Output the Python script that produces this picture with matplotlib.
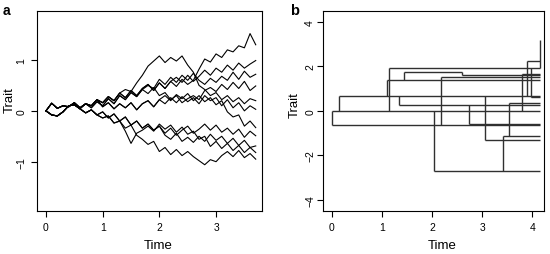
import numpy as np
import matplotlib.pyplot as plt

plt.rcParams['font.family'] = ['Liberation Sans', 'DejaVu Sans']

# ---- panel a: trait paths read every 0.1 time units ----
bm_time = np.linspace(0, 3.7, 38)

tip_01 = [0, .15, .05, .1, .08, .16, .06, .14, .1, .22, .16, .28, .2, .35, .26, .4, .3, .44, .52, .4,
          .55, .44, .58, .48, .62, .52, .6, .82, 1.02, .96, 1.12, 1.05, 1.2, 1.16, 1.28, 1.24, 1.52, 1.3]
tip_02 = [0, .15, .05, .1, .08, .16, .06, .14, .1, .22, .16, .28, .2, .35, .42, .38, .55, .7, .88, .98,
          1.08, .95, 1.05, .98, 1.08, .9, .76, .5, .42, .3, .36, .22, .3, .18, .26, .14, .24, .2]
tip_03 = [0, .15, .05, .1, .08, .16, .06, .14, .1, .22, .16, .28, .2, .35, .26, .4, .3, .44, .52, .4,
          .55, .44, .58, .66, .56, .7, .58, .68, .8, .7, .84, .76, .9, .8, .94, .84, .92, .99]
tip_04 = [0, -.08, -.1, -.02, .1, .12, .04, .14, .06, .18, .1, .24, .14, .3, .22, .36, .28, .42, .5, .44,
          .62, .52, .66, .56, .7, .6, .74, .6, .52, .64, .56, .68, .6, .76, .62, .78, .66, .72]
tip_05 = [0, -.08, -.1, -.02, .1, .12, .04, .14, .06, .18, .1, .24, .14, .3, .22, .36, .28, .42, .34, .46,
          .3, .36, .22, .3, .16, .24, .3, .22, .4, .46, .38, .52, .42, .56, .44, .58, .4, .49]
tip_06 = [0, .15, .05, .1, .08, .16, .06, .14, .1, .22, .08, .16, .04, .14, .06, .16, .02, .14, .2, .08,
          .22, .14, .26, .16, .28, .18, .26, .14, .3, .2, .26, .1, .22, .06, .16, 0, .1, .03]
tip_07 = [0, .15, .05, .1, .08, .16, .06, .14, .1, .22, .08, .16, .04, .14, .06, .16, .02, .14, .2, .08,
          .22, .3, .2, .32, .24, .34, .2, .3, .18, .26, .12, .2, -.02, -.12, -.08, -.3, -.2, -.33]
tip_08 = [0, -.08, -.1, -.02, .1, .12, .04, -.04, .02, -.08, -.02, -.14, -.06, -.2, -.12, -.28, -.2, -.34, -.26, -.38,
          -.3, -.44, -.34, -.48, -.38, -.3, -.44, -.36, -.26, -.38, -.28, -.42, -.34, -.46, -.36, -.52, -.4, -.49]
tip_09 = [0, -.08, -.1, -.02, .1, .12, .04, -.04, .02, -.08, -.02, -.14, -.06, -.2, -.12, -.28, -.2, -.34, -.26, -.38,
          -.3, -.48, -.56, -.44, -.6, -.52, -.62, -.5, -.6, -.46, -.58, -.5, -.64, -.54, -.68, -.58, -.72, -.69]
tip_10 = [0, -.08, -.1, -.02, .1, .12, .04, -.04, .02, -.08, -.14, -.1, -.24, -.2, -.4, -.64, -.44, -.38, -.3, -.4,
          -.26, -.36, -.28, -.42, -.32, -.46, -.4, -.56, -.5, -.7, -.6, -.74, -.64, -.78, -.68, -.82, -.72, -.82]
tip_11 = [0, -.08, -.1, -.02, .1, .12, .04, -.04, .02, -.08, -.14, -.1, -.24, -.2, -.34, -.28, -.48, -.56, -.66, -.6,
          -.8, -.72, -.86, -.76, -.88, -.8, -.9, -.98, -1.06, -.96, -1.0, -.88, -.8, -.9, -.78, -.92, -.84, -.95]
bm_paths = [tip_01, tip_02, tip_03, tip_04, tip_05, tip_06, tip_07, tip_08, tip_09, tip_10, tip_11]

# ---- panel b: jump process, horizontal stretches and vertical jumps ----
seg_start = [0, 0, 0.15, 1.14, 1.10, 1.44, 2.60, 1.35, 2.74, 2.05, 3.42, 3.54, 2.19, 3.06, 3.80, 3.89, 3.97]
seg_end   = [4.15, 4.15, 4.15, 4.15, 4.15, 2.60, 4.15, 4.15, 4.15, 4.15, 4.15, 4.15, 4.15, 4.15, 4.15, 4.15, 4.15]
seg_value = [0, -0.64, 0.67, 1.90, 1.39, 1.72, 1.60, 0.26, -0.60, -2.69, -1.12, 0.33, 1.50, -1.31, 1.65, 2.24, 0.60]

jump_time = [0, 0.15, 1.10, 1.14, 1.35, 1.44, 2.05, 2.19, 2.60, 2.74, 3.06, 3.42, 3.54, 3.80, 3.89, 3.97, 4.15]
jump_low  = [-0.64, 0, 0.67, 0, 0.26, 1.39, -2.69, -0.64, 1.60, -0.60, -1.31, -2.69, -1.12, 0, 0.67, 0.60, 1.90]
jump_high = [0, 0.67, 1.39, 1.90, 0.67, 1.72, 0, 1.50, 1.72, 0.26, 0.67, -1.12, 0.33, 1.65, 2.24, 1.90, 3.18]


def r_style(ax, xpad, ypad):
    for sp in ax.spines.values():
        sp.set_linewidth(0.8)
    ax.tick_params(direction='out', length=4.3, width=0.8, labelsize=7.5)
    ax.tick_params(axis='x', pad=xpad)
    ax.tick_params(axis='y', pad=ypad)
    for lab in ax.get_yticklabels():
        lab.set_rotation(90)
        lab.set_va('center')


fig = plt.figure(figsize=(5.5, 2.55), dpi=100)

ax1 = fig.add_axes([0.0667, 0.1686, 0.4096, 0.7855])
for path in bm_paths:
    ax1.plot(bm_time, path, color='black', linewidth=0.8)
ax1.set_xlim(-0.164, 3.81)
ax1.set_ylim(-1.97, 1.97)
ax1.set_xticks([0, 1, 2, 3])
ax1.set_yticks([-1, 0, 1])
r_style(ax1, 3.4, 3.0)
ax1.set_xlabel('Time', fontsize=9.5)
ax1.set_ylabel('Trait', fontsize=9.5)
ax1.xaxis.set_label_coords(0.54, -0.14)
ax1.yaxis.set_label_coords(-0.092, 0.56)

ax2 = fig.add_axes([0.5878, 0.1686, 0.4018, 0.7855])
ax2.hlines(seg_value, seg_start, seg_end, color='#303030', linewidth=1.0)
ax2.vlines(jump_time, jump_low, jump_high, color='#303030', linewidth=1.0)
ax2.set_xlim(-0.167, 4.24)
ax2.set_ylim(-4.49, 4.49)
ax2.set_xticks([0, 1, 2, 3, 4])
ax2.set_yticks([-4, -2, 0, 2, 4])
r_style(ax2, 3.4, 1.5)
ax2.set_xlabel('Time', fontsize=9.5)
ax2.set_ylabel('Trait', fontsize=9.5)
ax2.xaxis.set_label_coords(0.54, -0.14)
ax2.yaxis.set_label_coords(-0.103, 0.535)

fig.text(0.005, 0.941, 'a', fontsize=10, fontweight='bold', va='baseline')
fig.text(0.527, 0.941, 'b', fontsize=10.5, fontweight='bold', va='baseline')

fig.savefig('out.png', dpi=100)
